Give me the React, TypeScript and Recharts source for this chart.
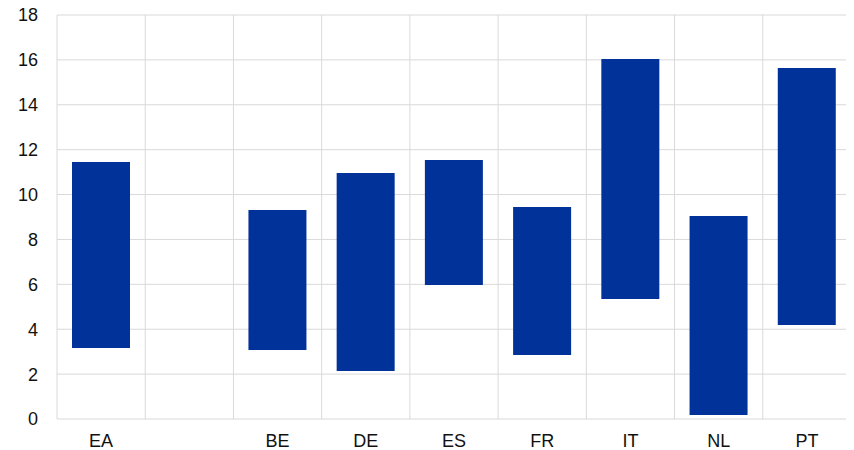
import { Bar, BarChart, CartesianGrid, Cell, XAxis, YAxis } from "recharts";

// 범위 막대: 국가별 최저~최고
const CATEGORIES = ["EA", "", "BE", "DE", "ES", "FR", "IT", "NL", "PT"];
const LOW = [3.16, null, 3.07, 2.14, 5.97, 2.85, 5.35, 0.18, 4.19];
const HIGH = [11.45, null, 9.31, 10.96, 11.54, 9.45, 16.04, 9.05, 15.64];
const Y_TICKS = [0, 2, 4, 6, 8, 10, 12, 14, 16, 18];

const BAR_COLOR = "#003299";
const GRID_COLOR = "#d9d9d9";

const data = CATEGORIES.map((name, i) => ({
  name,
  range: LOW[i] == null || HIGH[i] == null ? null : [LOW[i], HIGH[i]],
}));

export default function App() {
  return (
    <div
      style={{
        marginTop: -8,
        marginLeft: -8,
        fontFamily: "'Liberation Sans', Arial, sans-serif",
      }}
    >
      <BarChart
        width={854}
        height={450}
        data={data}
        margin={{ top: 15, right: 3, bottom: 1, left: 0 }}
        barCategoryGap={15}
        style={{ overflow: "visible" }}
      >
        <CartesianGrid
          stroke={GRID_COLOR}
          strokeWidth={1}
          verticalCoordinatesGenerator={({ offset }: any) =>
            CATEGORIES.map((_, i) => offset.left + (i * offset.width) / CATEGORIES.length).concat(
              offset.left + offset.width
            )
          }
        />
        <XAxis
          dataKey="name"
          height={30}
          axisLine={false}
          tickLine={false}
          tickSize={0}
          tickMargin={15}
          interval={0}
          tick={{ fontSize: 18, fill: "#111" }}
        />
        <YAxis
          width={57}
          domain={[0, 18]}
          ticks={Y_TICKS}
          axisLine={false}
          tickLine={false}
          tickSize={0}
          tickMargin={19}
          tick={{ fontSize: 18, fill: "#111" }}
        />
        <Bar dataKey="range" fill={BAR_COLOR} isAnimationActive={false}>
          {data.map((_, i) => (
            <Cell key={i} fill={BAR_COLOR} />
          ))}
        </Bar>
      </BarChart>
    </div>
  );
}
